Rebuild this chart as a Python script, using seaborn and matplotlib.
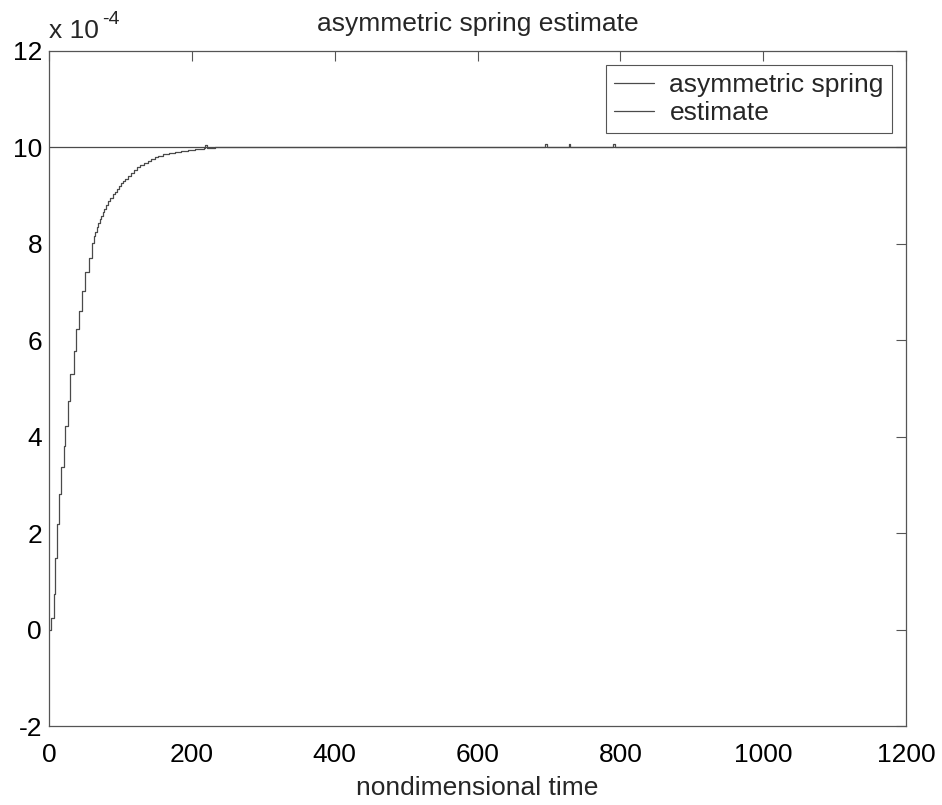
import numpy as np
import pandas as pd
import seaborn as sns
import matplotlib.pyplot as plt

# values in units of 1e-4
spring_t = [0, 1200]
spring_v = [10, 10]

est_t = [0, 3, 6.5, 9, 11, 14.5, 17, 20.5, 23, 26.5, 30, 34.5, 38, 41.5, 46, 51,
         55.5, 60, 63, 65, 67, 69, 71, 73, 75, 77, 80, 83, 86, 89, 92, 95, 98,
         101, 104, 107, 111, 115, 119, 123, 128, 133, 138, 143, 148, 153, 160,
         168, 176, 185, 195, 205, 217, 219, 221, 232, 693, 695, 697, 726,
         728, 730, 788, 790, 792, 1200]
est_v = [0, 0.25, 0.74, 1.49, 2.18, 2.81, 3.37, 3.81, 4.22, 4.74, 5.30, 5.78,
         6.23, 6.60, 7.01, 7.41, 7.71, 8.01, 8.15, 8.25, 8.34, 8.43, 8.51, 8.58,
         8.65, 8.72, 8.80, 8.88, 8.95, 9.02, 9.08, 9.14, 9.19, 9.25, 9.30, 9.35,
         9.41, 9.47, 9.53, 9.58, 9.63, 9.68, 9.72, 9.76, 9.79, 9.82, 9.85, 9.88,
         9.90, 9.92, 9.94, 9.96, 9.98, 10.05, 9.99, 10.0, 10.0, 10.06, 10.0,
         10.0, 10.06, 10.0, 10.0, 10.06, 10.0, 10.0]

sns.set_style("white")
plt.rcParams['font.family'] = ['Liberation Sans', 'DejaVu Sans']
plt.rcParams['axes.unicode_minus'] = False

fig = plt.figure(figsize=(9.42, 8.05), dpi=100)
ax = fig.add_axes([0.052, 0.098, 0.910, 0.839])

line_col = "#4a4a4a"
sns.lineplot(x=spring_t, y=spring_v, ax=ax, color=line_col, lw=0.9,
             label="asymmetric spring", estimator=None, sort=False)
sns.lineplot(x=est_t, y=est_v, ax=ax, color=line_col, lw=0.9,
             label="estimate", estimator=None, sort=False, drawstyle="steps-post")

fs = 19
ax.set_xlim(0, 1200)
ax.set_ylim(-2, 12)
ax.set_xticks(np.arange(0, 1201, 200))
ax.set_yticks(np.arange(-2, 13, 2))
ax.tick_params(direction="in", length=7, width=0.8, color="#555555",
               labelcolor="black", labelsize=fs, top=True, right=True, pad=5)
ax.tick_params(axis="x", pad=12)
for s in ax.spines.values():
    s.set_color("#555555")
    s.set_linewidth(0.9)

ax.set_title("asymmetric spring estimate", fontsize=fs, pad=14)
ax.set_xlabel("nondimensional time", fontsize=fs, labelpad=7)
ax.text(0.0, 1.019, "x 10", transform=ax.transAxes,
        fontsize=fs, ha="left", va="baseline")
ax.text(0.062, 1.039, "-4", transform=ax.transAxes,
        fontsize=14, ha="left", va="baseline")

leg = ax.legend(loc="upper right", fontsize=fs, fancybox=False, framealpha=1,
                edgecolor="#555555", borderaxespad=0.55, handlelength=1.5,
                handletextpad=0.6, borderpad=0.3, labelspacing=0.15)
leg.get_frame().set_linewidth(0.8)

fig.savefig("out.png", dpi=100)
